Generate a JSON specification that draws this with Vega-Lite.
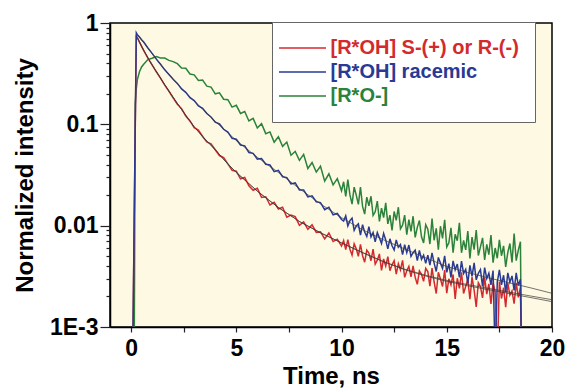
{
"$schema":"https://vega.github.io/schema/vega-lite/v6.json",
"width":442,"height":304,
"autosize":{"type":"none"},
"padding":{"left":110,"top":23,"right":16,"bottom":62},
"background":"white",
"config":{
"view":{"fill":"#fdf9e3","stroke":"#000","strokeWidth":1.5},
"font":"Liberation Sans",
"axis":{"labelFont":"Liberation Sans","labelFontWeight":"bold","labelFontSize":23,"labelColor":"#000","titleFont":"Liberation Sans","titleFontWeight":"bold","titleFontSize":24,"titleColor":"#000","domainColor":"#000","domainWidth":1.5,"tickColor":"#222","tickWidth":1.2,"grid":false}
},
"datasets":{
"traces":[
{"t":0.08,"r":0.0005,"b":0.0005,"g":0.0005},
{"t":0.15,"r":0.011,"b":0.012,"g":0.0005},
{"t":0.2,"r":0.09,"b":0.1,"g":0.16},
{"t":0.25,"r":0.76,"b":0.8,"g":0.225},
{"t":0.3,"r":0.716,"b":0.768,"g":0.276},
{"t":0.4,"r":0.647,"b":0.726,"g":0.33},
{"t":0.5,"r":0.588,"b":0.683,"g":0.368},
{"t":0.6,"r":0.538,"b":0.648,"g":0.392},
{"t":0.8,"r":0.451,"b":0.567,"g":0.436},
{"t":1.0,"r":0.386,"b":0.502,"g":0.449},
{"t":1.2,"r":0.33,"b":0.44,"g":0.466},
{"t":1.4,"r":0.286,"b":0.391,"g":0.452},
{"t":1.6,"r":0.244,"b":0.345,"g":0.451},
{"t":1.8,"r":0.212,"b":0.311,"g":0.428},
{"t":2.0,"r":0.183,"b":0.278,"g":0.416},
{"t":2.2,"r":0.158,"b":0.2535,"g":0.397},
{"t":2.4,"r":0.143,"b":0.2237,"g":0.36},
{"t":2.6,"r":0.121,"b":0.207,"g":0.357},
{"t":2.8,"r":0.108,"b":0.183,"g":0.314},
{"t":3.0,"r":0.0925,"b":0.1717,"g":0.308},
{"t":3.2,"r":0.0877,"b":0.1519,"g":0.271},
{"t":3.4,"r":0.0759,"b":0.1438,"g":0.274},
{"t":3.6,"r":0.0671,"b":0.1277,"g":0.238},
{"t":3.8,"r":0.0643,"b":0.1182,"g":0.233},
{"t":4.0,"r":0.0562,"b":0.1049,"g":0.2},
{"t":4.2,"r":0.0492,"b":0.1009,"g":0.205},
{"t":4.4,"r":0.047,"b":0.0893,"g":0.177},
{"t":4.6,"r":0.0407,"b":0.0838,"g":0.175},
{"t":4.8,"r":0.0352,"b":0.0728,"g":0.148},
{"t":5.0,"r":0.0345,"b":0.0713,"g":0.154},
{"t":5.2,"r":0.029,"b":0.0625,"g":0.128},
{"t":5.4,"r":0.0299,"b":0.0613,"g":0.134},
{"t":5.6,"r":0.0247,"b":0.0527,"g":0.108},
{"t":5.8,"r":0.0223,"b":0.0517,"g":0.1145},
{"t":6.0,"r":0.0234,"b":0.0454,"g":0.092},
{"t":6.2,"r":0.019,"b":0.046,"g":0.1015},
{"t":6.4,"r":0.0193,"b":0.0404,"g":0.0809},
{"t":6.6,"r":0.016,"b":0.0397,"g":0.0842},
{"t":6.8,"r":0.017,"b":0.0341,"g":0.0667},
{"t":7.0,"r":0.0146,"b":0.0352,"g":0.0754},
{"t":7.2,"r":0.0152,"b":0.0304,"g":0.0606},
{"t":7.4,"r":0.0121,"b":0.0298,"g":0.0668},
{"t":7.6,"r":0.0127,"b":0.0258,"g":0.0495},
{"t":7.8,"r":0.0123,"b":0.0264,"g":0.0539},
{"t":8.0,"r":0.0101,"b":0.0225,"g":0.0441},
{"t":8.2,"r":0.0109,"b":0.0225,"g":0.0505},
{"t":8.4,"r":0.0092,"b":0.0192,"g":0.0367},
{"t":8.6,"r":0.0102,"b":0.0197,"g":0.042},
{"t":8.8,"r":0.00857,"b":0.0172,"g":0.0338},
{"t":9.0,"r":0.00868,"b":0.0169,"g":0.0386},
{"t":9.2,"r":0.0074,"b":0.0144,"g":0.0275},
{"t":9.4,"r":0.00846,"b":0.0152,"g":0.0325},
{"t":9.6,"r":0.00697,"b":0.0128,"g":0.0253},
{"t":9.8,"r":0.00736,"b":0.0132,"g":0.0291},
{"t":10.0,"r":0.00629,"b":0.0115,"g":0.0221},
{"t":10.1,"r":0.00714,"b":0.0111,"g":0.0271},
{"t":10.2,"r":0.00581,"b":0.01251,"g":0.0194},
{"t":10.3,"r":0.00726,"b":0.00996,"g":0.0285},
{"t":10.4,"r":0.00586,"b":0.01121,"g":0.0201},
{"t":10.5,"r":0.00513,"b":0.01187,"g":0.0163},
{"t":10.6,"r":0.00662,"b":0.00898,"g":0.024},
{"t":10.7,"r":0.00591,"b":0.00992,"g":0.02},
{"t":10.8,"r":0.00499,"b":0.01042,"g":0.0162},
{"t":10.9,"r":0.00655,"b":0.00807,"g":0.024},
{"t":11.0,"r":0.00505,"b":0.01021,"g":0.0155},
{"t":11.1,"r":0.00436,"b":0.00864,"g":0.013},
{"t":11.2,"r":0.00574,"b":0.00784,"g":0.0191},
{"t":11.3,"r":0.00537,"b":0.00979,"g":0.0157},
{"t":11.4,"r":0.00451,"b":0.00774,"g":0.0195},
{"t":11.5,"r":0.00588,"b":0.00854,"g":0.0126},
{"t":11.6,"r":0.00418,"b":0.00691,"g":0.0137},
{"t":11.7,"r":0.00457,"b":0.00854,"g":0.0175},
{"t":11.8,"r":0.00526,"b":0.00758,"g":0.011},
{"t":11.9,"r":0.00362,"b":0.00667,"g":0.0149},
{"t":12.0,"r":0.00469,"b":0.0084,"g":0.012},
{"t":12.1,"r":0.00399,"b":0.00723,"g":0.0168},
{"t":12.2,"r":0.00494,"b":0.00591,"g":0.0104},
{"t":12.3,"r":0.0036,"b":0.00742,"g":0.0127},
{"t":12.4,"r":0.00411,"b":0.00634,"g":0.009},
{"t":12.5,"r":0.00451,"b":0.00575,"g":0.0138},
{"t":12.6,"r":0.00333,"b":0.00723,"g":0.0113},
{"t":12.7,"r":0.00422,"b":0.00614,"g":0.0152},
{"t":12.8,"r":0.00365,"b":0.00651,"g":0.0093},
{"t":12.9,"r":0.00454,"b":0.00517,"g":0.0101},
{"t":13.0,"r":0.00309,"b":0.00648,"g":0.0127},
{"t":13.1,"r":0.00359,"b":0.00542,"g":0.00814},
{"t":13.2,"r":0.00396,"b":0.00644,"g":0.01145},
{"t":13.3,"r":0.00312,"b":0.00498,"g":0.00878},
{"t":13.4,"r":0.00401,"b":0.00541,"g":0.0124},
{"t":13.5,"r":0.00309,"b":0.00572,"g":0.00765},
{"t":13.6,"r":0.00264,"b":0.00452,"g":0.00962},
{"t":13.7,"r":0.00358,"b":0.00571,"g":0.01124},
{"t":13.8,"r":0.00332,"b":0.00465,"g":0.00777},
{"t":13.9,"r":0.00282,"b":0.00511,"g":0.00676},
{"t":14.0,"r":0.00379,"b":0.00424,"g":0.01021},
{"t":14.1,"r":0.00352,"b":0.00512,"g":0.00921},
{"t":14.2,"r":0.00253,"b":0.00409,"g":0.00659},
{"t":14.3,"r":0.00382,"b":0.00539,"g":0.01176},
{"t":14.4,"r":0.00278,"b":0.00427,"g":0.00718},
{"t":14.5,"r":0.00214,"b":0.00353,"g":0.00942},
{"t":14.6,"r":0.00347,"b":0.00486,"g":0.00579},
{"t":14.7,"r":0.00298,"b":0.00427,"g":0.00988},
{"t":14.8,"r":0.00251,"b":0.00378,"g":0.00748},
{"t":14.9,"r":0.00364,"b":0.00504,"g":0.01141},
{"t":15.0,"r":0.00216,"b":0.00346,"g":0.00615},
{"t":15.1,"r":0.00299,"b":0.00421,"g":0.00678},
{"t":15.2,"r":0.0026,"b":0.00309,"g":0.0095},
{"t":15.3,"r":0.0033,"b":0.00449,"g":0.00542},
{"t":15.4,"r":0.00189,"b":0.00366,"g":0.00822},
{"t":15.5,"r":0.00303,"b":0.00418,"g":0.0071},
{"t":15.6,"r":0.0024,"b":0.00308,"g":0.01067},
{"t":15.7,"r":0.00346,"b":0.00446,"g":0.0054},
{"t":15.8,"r":0.00214,"b":0.00338,"g":0.00714},
{"t":15.9,"r":0.00252,"b":0.0037,"g":0.00576},
{"t":16.0,"r":0.00295,"b":0.00269,"g":0.00883},
{"t":16.1,"r":0.00188,"b":0.00405,"g":0.00474},
{"t":16.2,"r":0.00311,"b":0.00316,"g":0.00771},
{"t":16.3,"r":0.00231,"b":0.0043,"g":0.0058},
{"t":16.4,"r":0.00158,"b":0.00292,"g":0.00905},
{"t":16.5,"r":0.00273,"b":0.00339,"g":0.00507},
{"t":16.6,"r":0.00251,"b":0.00369,"g":0.00618},
{"t":16.7,"r":0.00194,"b":0.00252,"g":0.00757},
{"t":16.8,"r":0.00309,"b":0.00386,"g":0.0046},
{"t":16.9,"r":0.00211,"b":0.00301,"g":0.00654},
{"t":17.0,"r":0.00267,"b":0.00339,"g":0.00517},
{"t":17.1,"r":0.00169,"b":0.0026,"g":0.00808},
{"t":17.2,"r":0.00275,"b":0.00361,"g":0.00431},
{"t":17.3,"r":0.00221,"b":0.0005,"g":0.00602},
{"t":17.4,"r":0.0005,"b":0.00277,"g":0.00477},
{"t":17.5,"r":0.00281,"b":0.00366,"g":0.00725},
{"t":17.6,"r":0.00191,"b":0.0026,"g":0.00505},
{"t":17.7,"r":0.00244,"b":0.00324,"g":0.00632},
{"t":17.8,"r":0.00157,"b":0.0022,"g":0.00392},
{"t":17.9,"r":0.00271,"b":0.00342,"g":0.00544},
{"t":18.0,"r":0.00206,"b":0.00277,"g":0.00667},
{"t":18.1,"r":0.00227,"b":0.00319,"g":0.00433},
{"t":18.2,"r":0.0017,"b":0.0023,"g":0.00835},
{"t":18.3,"r":0.00273,"b":0.00343,"g":0.00452},
{"t":18.4,"r":0.00196,"b":0.00256,"g":0.00574},
{"t":18.5,"r":0.00243,"b":0.00296,"g":0.00693},
{"t":18.55,"r":0.0005,"b":0.0005,"g":0.0005}
],
"fits":[
{"f":"b","t":0.3,"v":0.767},{"f":"b","t":0.6,"v":0.646},{"f":"b","t":1.0,"v":0.501},{"f":"b","t":1.5,"v":0.368},{"f":"b","t":2.0,"v":0.279},{"f":"b","t":2.5,"v":0.215},{"f":"b","t":3.0,"v":0.17},{"f":"b","t":3.5,"v":0.135},{"f":"b","t":4.0,"v":0.107},{"f":"b","t":4.5,"v":0.0862},{"f":"b","t":5.0,"v":0.0692},{"f":"b","t":6.0,"v":0.0473},{"f":"b","t":7.0,"v":0.0335},{"f":"b","t":8.0,"v":0.0232},{"f":"b","t":9.0,"v":0.0164},{"f":"b","t":10.0,"v":0.012},{"f":"b","t":11.0,"v":0.00912},{"f":"b","t":12.0,"v":0.00724},{"f":"b","t":13.0,"v":0.00589},{"f":"b","t":14.0,"v":0.00482},{"f":"b","t":15.0,"v":0.00395},{"f":"b","t":16.0,"v":0.00345},{"f":"b","t":17.0,"v":0.00305},{"f":"b","t":18.0,"v":0.00272},{"f":"b","t":19.0,"v":0.00243},{"f":"b","t":20.0,"v":0.00215},
{"f":"r1","t":0.3,"v":0.716},{"f":"r1","t":0.6,"v":0.537},{"f":"r1","t":1.0,"v":0.385},{"f":"r1","t":1.5,"v":0.265},{"f":"r1","t":2.0,"v":0.184},{"f":"r1","t":2.5,"v":0.131},{"f":"r1","t":3.0,"v":0.0944},{"f":"r1","t":3.5,"v":0.0719},{"f":"r1","t":4.0,"v":0.0562},{"f":"r1","t":4.5,"v":0.0427},{"f":"r1","t":5.0,"v":0.0335},{"f":"r1","t":6.0,"v":0.0219},{"f":"r1","t":7.0,"v":0.0151},{"f":"r1","t":8.0,"v":0.011},{"f":"r1","t":9.0,"v":0.00851},{"f":"r1","t":10.0,"v":0.00676},{"f":"r1","t":11.0,"v":0.00543},{"f":"r1","t":12.0,"v":0.00442},{"f":"r1","t":13.0,"v":0.00372},{"f":"r1","t":14.0,"v":0.00324},{"f":"r1","t":15.0,"v":0.00288},{"f":"r1","t":16.0,"v":0.00262},{"f":"r1","t":17.0,"v":0.0024},{"f":"r1","t":18.0,"v":0.0022},{"f":"r1","t":19.0,"v":0.00202},{"f":"r1","t":20.0,"v":0.00186},
{"f":"r2","t":0.3,"v":0.716},{"f":"r2","t":0.6,"v":0.537},{"f":"r2","t":1.0,"v":0.385},{"f":"r2","t":1.5,"v":0.265},{"f":"r2","t":2.0,"v":0.184},{"f":"r2","t":2.5,"v":0.131},{"f":"r2","t":3.0,"v":0.0944},{"f":"r2","t":3.5,"v":0.0719},{"f":"r2","t":4.0,"v":0.0562},{"f":"r2","t":4.5,"v":0.0427},{"f":"r2","t":5.0,"v":0.0335},{"f":"r2","t":6.0,"v":0.0219},{"f":"r2","t":7.0,"v":0.0151},{"f":"r2","t":8.0,"v":0.011},{"f":"r2","t":9.0,"v":0.00851},{"f":"r2","t":10.0,"v":0.00676},{"f":"r2","t":11.0,"v":0.00541},{"f":"r2","t":12.0,"v":0.0044},{"f":"r2","t":13.0,"v":0.00368},{"f":"r2","t":14.0,"v":0.00318},{"f":"r2","t":15.0,"v":0.00282},{"f":"r2","t":16.0,"v":0.00255},{"f":"r2","t":17.0,"v":0.00233},{"f":"r2","t":18.0,"v":0.00213},{"f":"r2","t":19.0,"v":0.00195},{"f":"r2","t":20.0,"v":0.00178}
]
},
"layer":[
{
"data":{"name":"traces"},
"transform":[{"fold":["r","b","g"],"as":["key","v"]},{"filter":"datum.key == 'g'"}],
"mark":{"type":"line","clip":true,"strokeWidth":1.5},
"encoding":{
"x":{"field":"t","type":"quantitative","scale":{"domain":[-1,20],"nice":false,"zero":false},"axis":{"title":"Time, ns","values":[0,2.5,5,7.5,10,12.5,15,17.5,20],"labelExpr":"datum.value % 5 == 0 ? datum.label : ''","tickSize":5,"labelPadding":5,"titlePadding":4,"labelFlush":false}},
"y":{"field":"v","type":"quantitative","scale":{"type":"log","domain":[0.001,1],"nice":false},"axis":{"title":"Normalized intensity","orient":"left","values":[0.001,0.002,0.003,0.004,0.005,0.006,0.007,0.008,0.009,0.01,0.02,0.03,0.04,0.05,0.06,0.07,0.08,0.09,0.1,0.2,0.3,0.4,0.5,0.6,0.7,0.8,0.9,1],"labelExpr":"datum.value == 1 ? '1' : datum.value == 0.1 ? '0.1' : datum.value == 0.01 ? '0.01' : datum.value == 0.001 ? '1E-3' : ''","tickSize":{"condition":{"test":"datum.value == 1 || datum.value == 0.1 || datum.value == 0.01 || datum.value == 0.001","value":10},"value":4},"labelPadding":2,"titlePadding":12,"labelFlush":false}},
"color":{"field":"key","type":"nominal","scale":{"domain":["r","b","g"],"range":["#d42a2e","#2a3a94","#2b823a"]},
"legend":{"title":null,"orient":"none","legendX":162,"legendY":-1,"fillColor":"#ffffff","strokeColor":"#666","padding":16,"symbolType":"M-4.7,0L4.7,0","symbolSize":100,"symbolOffset":4.5,"symbolStrokeWidth":1.6,"labelFont":"Liberation Sans","labelFontSize":20,"labelFontWeight":"bold","labelLimit":400,"rowPadding":4,"labelOffset":18,
"labelExpr":"datum.label == 'r' ? '[R*OH] S-(+) or R-(-)' : datum.label == 'b' ? '[R*OH] racemic' : '[R*O-]'",
"encode":{"labels":{"update":{"fill":{"scale":"color","field":"value"}}}}}}
}
},
{
"data":{"name":"traces"},
"transform":[{"fold":["r","b","g"],"as":["key","v"]},{"filter":"datum.key == 'r'"}],
"mark":{"type":"line","clip":true,"strokeWidth":1.5},
"encoding":{
"x":{"field":"t","type":"quantitative"},
"y":{"field":"v","type":"quantitative"},
"color":{"field":"key","type":"nominal"}
}
},
{
"data":{"name":"traces"},
"transform":[{"fold":["r","b","g"],"as":["key","v"]},{"filter":"datum.key == 'b'"}],
"mark":{"type":"line","clip":true,"strokeWidth":1.5},
"encoding":{
"x":{"field":"t","type":"quantitative"},
"y":{"field":"v","type":"quantitative"},
"color":{"field":"key","type":"nominal"}
}
},
{
"data":{"name":"fits"},
"mark":{"type":"line","clip":true,"strokeWidth":0.7,"color":"#3a3a3a"},
"encoding":{
"x":{"field":"t","type":"quantitative"},
"y":{"field":"v","type":"quantitative"},
"detail":{"field":"f","type":"nominal"}
}
}
]
}
